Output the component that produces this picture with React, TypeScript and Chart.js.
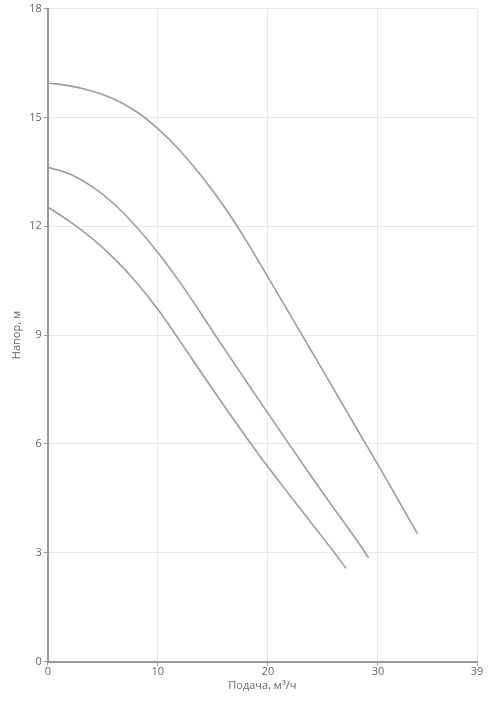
import React, { useEffect, useRef } from "react";
import { Chart, registerables } from "chart.js";

Chart.register(...registerables);

const xTicks = [0, 10, 20, 30, 39];
const yMax = 18;
const yStep = 3;

const topX = [0, 2, 4, 6, 8, 10, 12, 14, 16, 18, 20, 22, 24, 26, 28, 30, 32, 33.6];
const topY = [15.95, 15.87, 15.73, 15.51, 15.17, 14.69, 14.09, 13.37, 12.55, 11.62, 10.6, 9.57, 8.54, 7.5, 6.46, 5.43, 4.37, 3.52];

const midX = [0, 2, 4, 6, 8, 10, 12, 14, 16, 18, 20, 22, 24, 26, 28, 29.15];
const midY = [13.63, 13.44, 13.1, 12.62, 12.0, 11.28, 10.46, 9.56, 8.64, 7.74, 6.85, 5.96, 5.08, 4.22, 3.38, 2.86];

const lowX = [0, 2, 4, 6, 8, 10, 12, 14, 16, 18, 20, 22, 24, 26, 27.1];
const lowY = [12.53, 12.13, 11.67, 11.12, 10.47, 9.71, 8.84, 7.94, 7.06, 6.2, 5.37, 4.58, 3.8, 3.02, 2.57];

const xTitle = "Подача, м³/ч";
const yTitle = "Напор, м";

const toPts = (xs: number[], ys: number[]) => xs.map((x, i) => ({ x, y: ys[i] }));

export default function App() {
  const ref = useRef<HTMLCanvasElement | null>(null);
  useEffect(() => {
    if (!ref.current) return;
    const lineStyle = {
      showLine: true,
      borderColor: "#9c9c9c",
      borderWidth: 1.6,
      pointRadius: 0,
      pointHoverRadius: 0,
      fill: false,
      tension: 0.4,
      cubicInterpolationMode: "monotone" as const,
    };
    const font = { family: "Open Sans", size: 11 };
    const chart = new Chart(ref.current, {
      type: "scatter",
      data: {
        datasets: [
          { ...lineStyle, data: toPts(topX, topY) },
          { ...lineStyle, data: toPts(midX, midY) },
          { ...lineStyle, data: toPts(lowX, lowY) },
        ],
      },
      options: {
        animation: false,
        responsive: true,
        maintainAspectRatio: false,
        layout: { padding: { top: -4, right: 11, bottom: 26, left: 10 } },
        plugins: { legend: { display: false }, tooltip: { enabled: false } },
        scales: {
          x: {
            type: "linear",
            min: 0,
            max: 39,
            afterBuildTicks: (axis: any) => {
              axis.ticks = xTicks.map((v) => ({ value: v }));
            },
            grid: { color: "#e4e8f0", lineWidth: 1, tickLength: 4, tickColor: "#999" },
            border: { color: "#999", width: 2 },
            ticks: { color: "#666", font, padding: 0, maxRotation: 0 },
            title: { display: true, text: xTitle, color: "#666", font, padding: { top: 0, bottom: 0 } },
          },
          y: {
            type: "linear",
            min: 0,
            max: yMax,
            ticks: { stepSize: yStep, color: "#666", font, padding: 2 },
            grid: { color: "#e4e8f0", lineWidth: 1, tickLength: 4, tickColor: "#999" },
            border: { color: "#999", width: 2 },
            title: { display: true, text: yTitle, color: "#666", font, padding: { top: 0, bottom: 4 } },
          },
        },
      },
    });
    return () => chart.destroy();
  }, []);
  return (
    <div style={{ position: "fixed", left: 0, top: 0, width: 488, height: 718 }}>
      <canvas ref={ref} />
    </div>
  );
}
